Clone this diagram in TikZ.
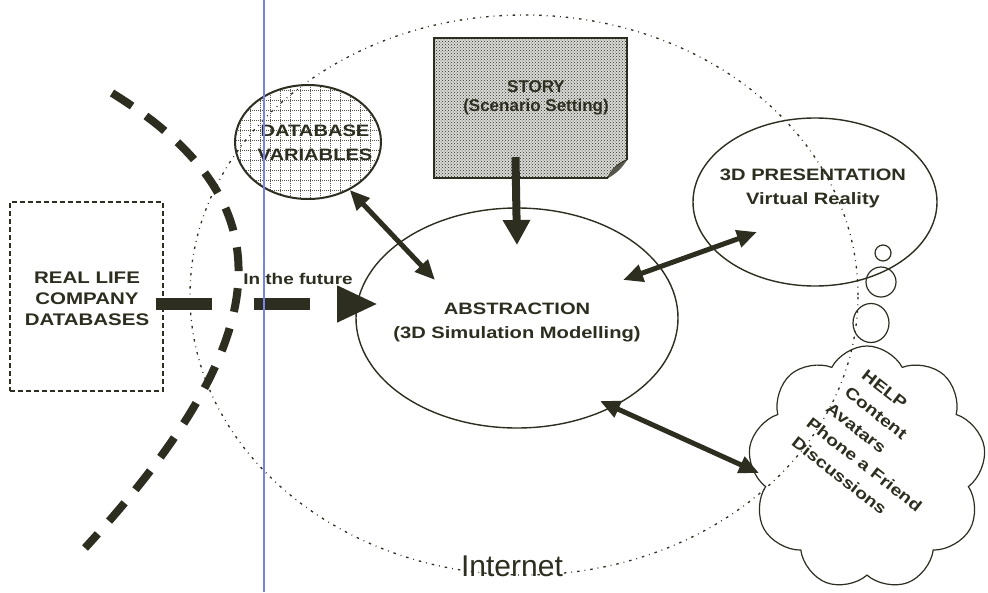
\documentclass[tikz,border=0pt]{standalone}
\usepackage{fontspec}
\setmainfont{Liberation Sans}
\newfontfamily\wf[FakeStretch=1.22]{Liberation Sans}
\usetikzlibrary{shapes.geometric,shapes.symbols,arrows.meta,patterns,calc}
\definecolor{ink}{RGB}{45,45,32}
\definecolor{scanblue}{RGB}{120,130,235}
\begin{document}
\begin{tikzpicture}[x=1pt,y=-1pt,
  lbl/.style={font=\wf\bfseries\fontsize{16.5}{24}\selectfont, text=ink, align=center, inner sep=0pt},
  inetline/.style={draw=ink, line width=1.3pt, dash pattern=on 2.5pt off 5pt on 0.8pt off 5pt},
  shapeline/.style={draw=ink, line width=1.4pt},
  bubble/.style={draw=ink, line width=1.2pt, inner sep=0pt},
  dbl/.style={draw=ink, line width=5pt, {Triangle[length=20pt,width=17pt]}-{Triangle[length=20pt,width=17pt]}},
]
\useasboundingbox (0,0) rectangle (988,592);
\fill[white] (0,0) rectangle (988,592);

% Internet
\node[ellipse, inetline, minimum width=668pt, minimum height=560pt, inner sep=0pt] (inet) at (524,295) {};
\node[font=\fontsize{30}{30}\selectfont, text=ink, inner sep=0pt] (inettxt) at (512,566) {Internet};

% thick dashed boundary
\coordinate (arcA) at (112,93);
\coordinate (arcB) at (85,548);
\draw[ink, line width=8pt, dash pattern=on 24pt off 17pt] (arcA) .. controls (285,200) and (285,330) .. (arcB);

% real life box
\node[draw=ink, line width=1.2pt, dash pattern=on 5pt off 3pt, minimum width=153pt, minimum height=189pt, inner sep=0pt] (rl) at (86.5,296.5) {};
\node[lbl, font=\wf\bfseries\fontsize{16.8}{21}\selectfont] (rltxt) at (87,299) {REAL LIFE\\COMPANY\\DATABASES};

% database variables
\begin{scope}
  \clip (308,142) ellipse [x radius=73, y radius=57];
  \draw[ink!80, line width=0.7pt, dash pattern=on 1pt off 1pt] (228,78) grid[step=10pt] (392,208);
\end{scope}
\node[ellipse, draw=ink, line width=2pt, minimum width=146pt, minimum height=114pt, inner sep=0pt] (dbv) at (308,142) {};
\node[lbl] (dbvtxt) at (315,143) {DATABASE\\VARIABLES};

% story
\node[minimum width=193pt, minimum height=140pt, inner sep=0pt] (story) at (530.5,108) {};
\path[fill=ink!18] (434,38) -- (627,38) -- (627,160) .. controls (620,164) and (612,170) .. (608,178) -- (434,178) -- cycle;
\path[pattern=crosshatch dots, pattern color=ink] (434,38) -- (627,38) -- (627,160) .. controls (620,164) and (612,170) .. (608,178) -- (434,178) -- cycle;
\draw[ink, line width=1.5pt] (608,178) -- (434,178) -- (434,38) -- (627,38) -- (627,160);
\draw[ink, line width=1.3pt] (627,160) .. controls (620,162) and (611,170) .. (608,178);
\fill[ink!80] (608,178) .. controls (612,168) and (618,165) .. (627,160) .. controls (622,168) and (616,174) .. (608,178) -- cycle;
\node[font=\bfseries\fontsize{17}{19}\selectfont, text=ink, align=center, inner sep=0pt] (storytxt) at (536,98) {STORY\\(Scenario Setting)};

% 3D presentation
\node[ellipse, shapeline, minimum width=244pt, minimum height=168pt, inner sep=0pt] (pres) at (815,202) {};
\node[lbl] (prestxt) at (813,188) {3D PRESENTATION\\Virtual Reality};

% thought bubbles
\node[circle, bubble, minimum size=16pt] (b1) at (883,253) {};
\node[circle, bubble, minimum size=30pt] (b2) at (881,282) {};
\node[ellipse, bubble, minimum width=36pt, minimum height=39pt] (b3) at (871,323) {};

% help cloud
\node[cloud, draw=ink, line width=1.2pt, cloud puffs=9, cloud puff arc=125, aspect=1, minimum width=238pt, minimum height=244pt, inner sep=0pt] (help) at (867,468) {};
\node[lbl, align=left, rotate=-38, font=\wf\bfseries\fontsize{16}{24}\selectfont] (helptxt) at (879,446) {\hspace*{14pt}HELP\\\hspace*{11pt}Content\\\hspace*{6pt}Avatars\\Phone a Friend\\Discussions};

% abstraction
\node[ellipse, shapeline, minimum width=322pt, minimum height=220pt, inner sep=0pt] (abs) at (517,318) {};
\node[lbl] (abstxt) at (517,322) {ABSTRACTION\\(3D Simulation Modelling)};

% connectors
\draw[dbl] (dbv.-49) -- ($(abs.center)+(-82,-38)$);
\draw[ink, line width=8pt, -{Triangle[length=25pt,width=26pt]}] ($(story.south)+(-15,-21)$) -- ($(abs.center)+(0,-73)$);
\draw[dbl] ($(abs.center)+(106,-38)$) -- ($(pres.center)+(-58,30)$);
\draw[dbl] ($(abs.center)+(83,83)$) -- ($(help.center)+(-108,5)$);
\draw[ink, line width=12pt, dash pattern=on 56pt off 42pt, -{Triangle[length=41pt,width=34pt]}] ($(rl.east)+(-8,7.5)$) -- ($(abs.center)+(-139,-14)$);
\node[lbl, font=\wf\bfseries\fontsize{15.5}{18}\selectfont] (future) at (298,279) {In the future};

% scan line
\coordinate (bt) at (264,0);
\coordinate (bb) at (264,592);
\draw[scanblue, line width=2pt] (bt) -- (bb);
\end{tikzpicture}
\end{document}
